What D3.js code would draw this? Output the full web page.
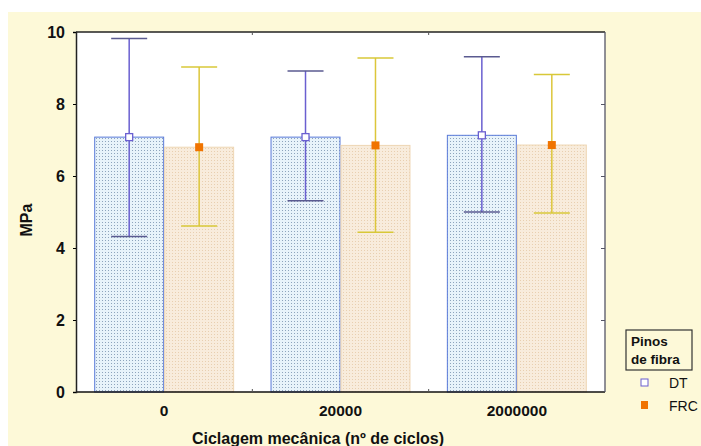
<!DOCTYPE html>
<html><head><meta charset="utf-8">
<script src="https://cdn.jsdelivr.net/npm/d3@7"></script>
<style>body{margin:0;background:#fff}svg{display:block}text{font-family:"Liberation Sans",Arial,sans-serif}</style>
</head><body>
<script>
const categories = ["0", "20000", "2000000"];
const series = ["DT", "FRC"];
const means = { DT: [7.08, 7.08, 7.13], FRC: [6.8, 6.85, 6.86] };
const upper = { DT: [9.82, 8.92, 9.31], FRC: [9.03, 9.28, 8.82] };
const lower = { DT: [4.32, 5.31, 5.0], FRC: [4.61, 4.44, 4.97] };
const yTicks = [0, 2, 4, 6, 8, 10];

const W = 701, H = 446;
const m = { l: 76, r: 96, t: 32, b: 54 };
const svg = d3.select("body").append("svg").attr("width", W).attr("height", H);
const defs = svg.append("defs");
const p1 = defs.append("pattern").attr("id", "dots").attr("width", 3).attr("height", 3).attr("patternUnits", "userSpaceOnUse");
p1.append("rect").attr("width", 3).attr("height", 3).attr("fill", "#e8f3fa");
p1.append("rect").attr("width", 1).attr("height", 1).attr("fill", "#8ea4bc");
const p2 = defs.append("pattern").attr("id", "hatch").attr("width", 3).attr("height", 3).attr("patternUnits", "userSpaceOnUse");
p2.append("rect").attr("width", 3).attr("height", 3).attr("fill", "#f8ecdc");
p2.append("rect").attr("x", 1).attr("y", 1).attr("width", 1).attr("height", 1).attr("fill", "#e8cfb0");

svg.append("rect").attr("width", W).attr("height", H).attr("fill", "#fff");
svg.append("rect").attr("x", 8).attr("y", 12).attr("width", W - 8).attr("height", H - 12).attr("fill", "#fdf9d8");

const x0 = d3.scaleBand().domain(categories).range([m.l, W - m.r]).paddingInner(0).paddingOuter(0);
const x1 = d3.scaleBand().domain(series).range([0, x0.bandwidth()]).paddingOuter(0.26).paddingInner(0);
const y = d3.scaleLinear().domain([0, 10]).range([H - m.b, m.t]);

svg.append("rect").attr("x", m.l).attr("y", m.t).attr("width", W - m.r - m.l).attr("height", H - m.b - m.t).attr("fill", "#fff");

const fills = { DT: "url(#dots)", FRC: "url(#hatch)" };
const strokes = { DT: "#5a7ad8", FRC: "#eed6b4" };
const ecol = { DT: "#6a5fd0", FRC: "#dcc63a" };
const capcol = { DT: "#5a5a90", FRC: "#d8c838" };

series.forEach(s => {
  categories.forEach((c, i) => {
    const bx = x0(c) + x1(s), bw = x1.bandwidth();
    svg.append("rect").attr("x", bx + 0.5).attr("y", y(means[s][i])).attr("width", bw - 1)
      .attr("height", y(0) - y(means[s][i])).attr("fill", fills[s]).attr("stroke", strokes[s]).attr("stroke-width", 1);
  });
});
series.forEach(s => {
  categories.forEach((c, i) => {
    const cx = x0(c) + x1(s) + x1.bandwidth() / 2;
    svg.append("line").attr("x1", cx).attr("x2", cx).attr("y1", y(upper[s][i])).attr("y2", y(lower[s][i]))
      .attr("stroke", ecol[s]).attr("stroke-width", 1.5);
    [upper[s][i], lower[s][i]].forEach(v => {
      svg.append("line").attr("x1", cx - 18).attr("x2", cx + 18).attr("y1", y(v)).attr("y2", y(v))
        .attr("stroke", capcol[s]).attr("stroke-width", 1.5);
    });
    if (s === "DT") {
      svg.append("rect").attr("x", cx - 3.5).attr("y", y(means[s][i]) - 3.5).attr("width", 7).attr("height", 7)
        .attr("fill", "#fff").attr("stroke", "#6a5fd0").attr("stroke-width", 1.3);
    } else {
      svg.append("rect").attr("x", cx - 4).attr("y", y(means[s][i]) - 4).attr("width", 8).attr("height", 8)
        .attr("fill", "#f07400");
    }
  });
});

const fr = svg.append("g").attr("fill", "none");
fr.append("line").attr("x1", m.l).attr("x2", W - m.r).attr("y1", m.t).attr("y2", m.t).attr("stroke", "#222").attr("stroke-width", 1.5);
fr.append("line").attr("x1", m.l).attr("x2", W - m.r).attr("y1", H - m.b).attr("y2", H - m.b).attr("stroke", "#111").attr("stroke-width", 1.5);
fr.append("line").attr("x1", W - m.r).attr("x2", W - m.r).attr("y1", m.t).attr("y2", H - m.b).attr("stroke", "#556").attr("stroke-width", 1.3);

const ya = svg.append("g").attr("transform", `translate(${m.l},0)`)
  .call(d3.axisLeft(y).tickValues(yTicks).tickSize(3).tickPadding(8).tickFormat(d3.format("d")));
ya.select(".domain").attr("stroke", "#222").attr("stroke-width", 1.5);
ya.selectAll("text").attr("font-size", 16).attr("font-weight", "bold").attr("fill", "#111");
const yr = svg.append("g").attr("transform", `translate(${W - m.r},0)`)
  .call(d3.axisLeft(y).tickValues(yTicks.slice(1, -1)).tickSize(4).tickFormat(""));
yr.select(".domain").remove();
yr.selectAll("line").attr("stroke", "#556");

const xa = svg.append("g").attr("transform", `translate(0,${H - m.b})`)
  .call(d3.axisBottom(x0).tickSize(0).tickPadding(13));
xa.select(".domain").remove();
xa.selectAll("text").attr("font-size", 15.5).attr("font-weight", "bold").attr("fill", "#111");
categories.slice(1).forEach(c => {
  svg.append("line").attr("x1", x0(c)).attr("x2", x0(c)).attr("y1", H - m.b).attr("y2", H - m.b - 3).attr("stroke", "#555");
  svg.append("line").attr("x1", x0(c)).attr("x2", x0(c)).attr("y1", m.t).attr("y2", m.t + 3).attr("stroke", "#555");
});

svg.append("text").attr("x", 318).attr("y", 444).attr("text-anchor", "middle").attr("font-size", 16)
  .attr("font-weight", "bold").attr("fill", "#111").text("Ciclagem mecânica (nº de ciclos)");
svg.append("text").attr("transform", "translate(32,220) rotate(-90)").attr("text-anchor", "middle")
  .attr("font-size", 16).attr("font-weight", "bold").attr("fill", "#111").text("MPa");

const lg = svg.append("g");
lg.append("rect").attr("x", 626).attr("y", 330).attr("width", 66).attr("height", 40).attr("fill", "none").attr("stroke", "#333").attr("stroke-width", 1.2);
lg.append("text").attr("x", 631).attr("y", 346).attr("font-size", 13.5).attr("font-weight", "bold").attr("fill", "#111").text("Pinos");
lg.append("text").attr("x", 631).attr("y", 364).attr("font-size", 13.5).attr("font-weight", "bold").attr("fill", "#111").text("de fibra");
lg.append("rect").attr("x", 641).attr("y", 379).attr("width", 7).attr("height", 7).attr("fill", "#fff").attr("stroke", "#6a5fd0");
lg.append("text").attr("x", 669).attr("y", 388).attr("font-size", 14).attr("fill", "#111").text(series[0]);
lg.append("rect").attr("x", 641).attr("y", 401).attr("width", 7).attr("height", 8).attr("fill", "#f07400");
lg.append("text").attr("x", 669).attr("y", 411).attr("font-size", 14).attr("fill", "#111").text(series[1]);
</script>
</body></html>
